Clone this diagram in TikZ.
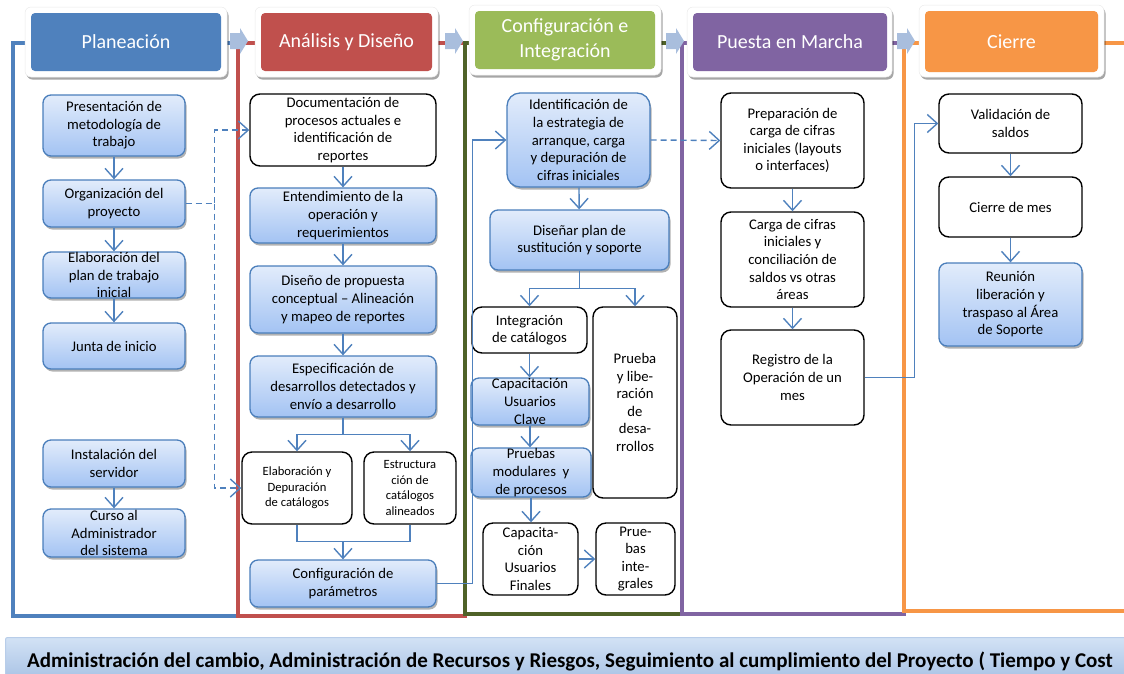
\documentclass[tikz,border=0pt]{standalone}
\usepackage{fontspec}
\setmainfont{Carlito}
\usetikzlibrary{arrows.meta,shadows,calc}
\definecolor{cblue}{HTML}{4F81BD}
\definecolor{cred}{HTML}{C0504D}
\definecolor{cgreen}{HTML}{9BBB59}
\definecolor{cdgreen}{HTML}{4F6228}
\definecolor{cpurple}{HTML}{8064A2}
\definecolor{corange}{HTML}{F79646}
\definecolor{boxline}{HTML}{4A7EBB}
\definecolor{gtop}{HTML}{E2ECFB}
\definecolor{gbot}{HTML}{A3C3F3}
\definecolor{chevc}{HTML}{A9BEDD}
\definecolor{bandtop}{HTML}{D3E2F5}
\definecolor{bandbot}{HTML}{A6C1E4}
\tikzset{
  bluebox/.style={rounded corners=8pt, draw=boxline, line width=1.3pt, top color=gtop, bottom color=gbot,
    drop shadow={shadow xshift=1.5pt, shadow yshift=-2.5pt, opacity=0.3, fill=black}, inner sep=0pt},
  whitebox/.style={rounded corners=10pt, draw=black, line width=1.4pt, fill=white, inner sep=0pt},
  txt/.style={align=center, inner sep=0pt, font=\fontsize{14.7}{17.6}\selectfont},
  stxt/.style={align=center, inner sep=0pt, font=\fontsize{12.6}{15.5}\selectfont},
  hout/.style={rounded corners=6pt, fill=white, draw=black!8, line width=0.5pt,
    drop shadow={shadow xshift=1.5pt, shadow yshift=-2.5pt, opacity=0.35, fill=black}, inner sep=0pt},
  hin/.style={rounded corners=4pt, inner sep=0pt},
  htxt/.style={align=center, inner sep=0pt, text=white, font=\fontsize{20}{24.5}\selectfont},
  frame/.style={line width=4pt, line join=miter},
  arr/.style={draw=cblue, line width=1.4pt, -{Straight Barb[length=10pt,width=18pt,line width=1.4pt]}},
  darr/.style={arr, dash pattern=on 6pt off 4pt},
  conn/.style={draw=cblue, line width=1.4pt},
  chev/.style={fill=chevc}
}
\newcommand\bx[7]{\node[#2, minimum width={#5-#3}, minimum height={#6-#4}] (#1) at ({(#3+#5)/2},{(#4+#6)/2}) {};}
\newcommand\tx[3]{\node[#1] at (#2) {#3};}
\begin{document}
\begin{tikzpicture}[x=1pt,y=-1pt]
\useasboundingbox (0,0) rectangle (1124,673);
% phase frames
\draw[frame, cblue] (240,43) -- (13,43) -- (13,616) -- (240,616);
\draw[frame, cred] (467,43) -- (238,43) -- (238,616) -- (467,616);
\draw[frame, cdgreen] (684,43) -- (465,43) -- (465,614) -- (684,614);
\draw[frame, cpurple] (906,43) -- (682,43) -- (682,614) -- (906,614);
\draw[frame, corange] (1130,43) -- (904,43) -- (904,611) -- (1130,611);
% chevrons
\foreach \cx in {230,445,666,897}{
  \fill[chev] (\cx,33) -- (\cx+10,33) -- (\cx+10,28) -- (\cx+18,41) -- (\cx+10,54) -- (\cx+10,49) -- (\cx,49) -- cycle;
}
% headers
\bx{hpo}{hout}{25}{7}{227}{77}{}
\bx{hp}{hin,fill=cblue}{31}{13}{221}{71}{}
\tx{htxt}{hp}{Planeación}
\bx{hao}{hout}{255}{7}{438}{77}{}
\bx{ha}{hin,fill=cred}{261}{13}{432}{71}{}
\tx{htxt}{ha}{Análisis y Diseño}
\bx{hco}{hout}{469}{5}{661}{75}{}
\bx{hc}{hin,fill=cgreen}{475}{11}{655}{69}{}
\tx{htxt}{hc}{Configuración e\\Integración}
\bx{hmo}{hout}{687}{7}{892}{77}{}
\bx{hm}{hin,fill=cpurple}{693}{13}{887}{71}{}
\tx{htxt}{hm}{Puesta en Marcha}
\bx{hzo}{hout}{919}{5}{1104}{77}{}
\bx{hz}{hin,fill=corange}{925}{11}{1098}{72}{}
\tx{htxt}{hz}{Cierre}
% Planeacion
\bx{pres}{bluebox}{43}{95}{185}{156}{}
\tx{txt}{pres}{Presentación de\\metodología de\\trabajo}
\bx{org}{bluebox}{43}{180}{185}{227}{}
\tx{txt}{org}{Organización del\\proyecto}
\bx{elabp}{bluebox}{43}{252}{185}{298}{}
\tx{txt}{elabp}{Elaboración del\\plan de trabajo\\inicial}
\bx{junta}{bluebox}{43}{323}{185}{369}{}
\tx{txt}{junta}{Junta de inicio}
\bx{inst}{bluebox}{43}{440}{185}{487}{}
\tx{txt}{inst}{Instalación del\\servidor}
\bx{curso}{bluebox}{43}{509}{185}{557}{}
\tx{txt}{curso}{Curso al\\Administrador\\del sistema}
% Analisis
\bx{doc}{whitebox}{250}{94}{436}{166}{}
\tx{txt}{doc}{Documentación de\\procesos actuales e\\identificación de\\reportes}
\bx{ent}{bluebox}{250}{188}{436}{243}{}
\tx{txt}{ent}{Entendimiento de la\\operación y\\requerimientos}
\bx{dis}{bluebox}{250}{266}{436}{333}{}
\tx{txt}{dis}{Diseño de propuesta\\conceptual – Alineación\\y mapeo de reportes}
\bx{esp}{bluebox}{250}{356}{436}{417}{}
\tx{txt}{esp}{Especificación de\\desarrollos detectados y\\envío a desarrollo}
\bx{elab}{whitebox}{242}{452}{352}{524}{}
\tx{stxt}{elab}{Elaboración y\\Depuración\\de catálogos}
\bx{estr}{whitebox}{364}{452}{456}{524}{}
\tx{stxt}{estr}{Estructura\\ción de\\catálogos\\alineados}
\bx{conf}{bluebox}{250}{560}{436}{607}{}
\tx{txt}{conf}{Configuración de\\parámetros}
% Configuracion
\bx{ident}{bluebox,rounded corners=13pt}{507}{93}{650}{187}{}
\tx{txt}{ident}{Identificación de\\la estrategia de\\arranque, carga\\y depuración de\\cifras iniciales}
\bx{disen}{bluebox}{490}{210}{669}{270}{}
\tx{txt}{disen}{Diseñar plan de\\sustitución y soporte}
\bx{integ}{whitebox}{472}{307}{587}{353}{}
\tx{txt}{integ}{Integración\\de catálogos}
\bx{prueba}{whitebox}{593}{307}{677}{498}{}
\tx{txt}{prueba}{Prueba\\y libe-\\ración\\de\\desa-\\rrollos}
\bx{capc}{bluebox}{471}{378}{589}{425}{}
\tx{txt}{capc}{Capacitación\\Usuarios\\Clave}
\bx{pmod}{bluebox}{471}{448}{591}{497}{}
\tx{txt}{pmod}{Pruebas\\modulares\ \ y\\de procesos}
\bx{capf}{whitebox}{483}{523}{578}{595}{}
\tx{txt}{capf}{Capacita-\\ción\\Usuarios\\Finales}
\bx{pint}{whitebox}{596}{523}{675}{595}{}
\tx{txt}{pint}{Prue-\\bas\\inte-\\grales}
% Puesta en marcha
\bx{prep}{whitebox}{721}{93}{864}{188}{}
\tx{txt}{prep}{Preparación de\\carga de cifras\\iniciales (layouts\\o interfaces)}
\bx{carga}{whitebox}{721}{212}{864}{307}{}
\tx{txt}{carga}{Carga de cifras\\iniciales y\\conciliación de\\saldos vs otras\\áreas}
\bx{reg}{whitebox}{721}{330}{864}{425}{}
\tx{txt}{reg}{Registro de la\\Operación de un\\mes}
% Cierre
\bx{val}{whitebox}{939}{94}{1082}{153}{}
\tx{txt}{val}{Validación de\\saldos}
\bx{cmes}{whitebox}{939}{177}{1082}{237}{}
\tx{txt}{cmes}{Cierre de mes}
\bx{reun}{bluebox}{939}{263}{1082}{346}{}
\tx{txt}{reun}{Reunión\\liberación y\\traspaso al Área\\de Soporte}
% connectors
\draw[arr] (pres) -- (org);
\draw[arr] (org) -- (elabp);
\draw[arr] (elabp) -- (junta);
\draw[arr] (inst) -- (curso);
\draw[darr] (org.east) -- ++(29,0) coordinate (d1) |- (doc.west);
\draw[darr] (d1) |- (elab.west);
\draw[arr] (doc) -- (ent);
\draw[arr] (ent) -- (dis);
\draw[arr] (dis) -- (esp);
\draw[arr] (esp.south) -- ++(0,17) -| (elab.north);
\draw[arr] (esp.south) -- ++(0,17) -| (estr.north);
\draw[conn] (elab.south) -- ++(0,17) coordinate (m1) -| (estr.south);
\draw[arr] (m1 -| conf.north) -- (conf.north);
\draw[arr] (conf.east) -- ++(36,0) |- (ident.west);
\draw[darr] (ident.east) -- (prep.west);
\draw[arr] (ident) -- (disen);
\draw[arr] (disen.south) -- ++(0,18) -| (integ.north);
\draw[arr] (disen.south) -- ++(0,18) -| (prueba.north);
\draw[arr] (integ.south) -- (integ.south |- capc.north);
\draw[arr] (capc.south) -- (capc.south |- pmod.north);
\draw[arr] (pmod.south) -- (pmod.south |- capf.north);
\draw[arr] (capf) -- (pint);
\draw[arr] (prep) -- (carga);
\draw[arr] (carga) -- (reg);
\draw[arr] (reg.east) -- ++(50,0) |- (val.west);
\draw[arr] (val) -- (cmes);
\draw[arr] (cmes) -- (reun);
% bottom band
\node[rounded corners=2pt, top color=bandtop, bottom color=bandbot, draw=bandbot!80!white, line width=1pt,
  minimum width=1130, minimum height=44, inner sep=0pt, anchor=north west] (band) at (5,637) {};
\node[anchor=base west, inner sep=0pt, font=\fontsize{21}{24}\selectfont\bfseries] (bandtxt) at (27,667)
  {Administración del cambio, Administración de Recursos y Riesgos, Seguimiento al cumplimiento del Proyecto ( Tiempo y Cost};
\end{tikzpicture}
\end{document}
